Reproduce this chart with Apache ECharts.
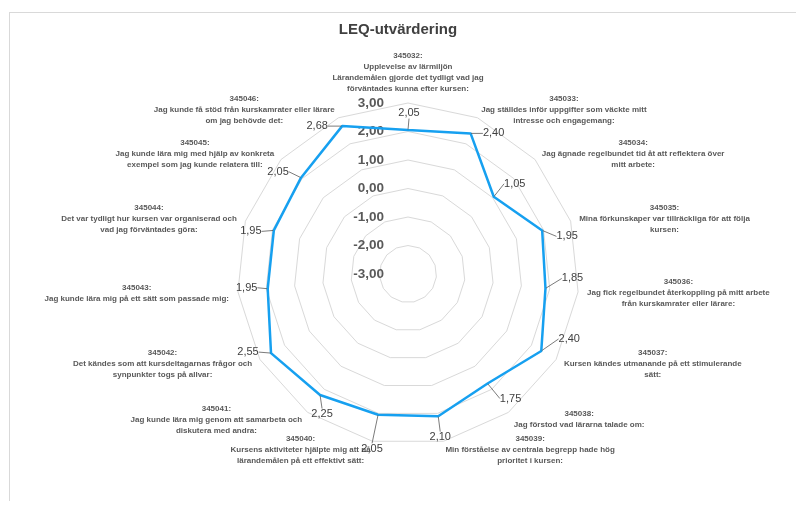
<!DOCTYPE html>
<html>
<head>
<meta charset="utf-8">
<script src="https://cdn.jsdelivr.net/npm/echarts@6/dist/echarts.min.js"></script>
<style>
  html, body { margin: 0; padding: 0; background: #fff; }
  #chart { width: 796px; height: 507px; }
  .frame { position: absolute; left: 9px; top: 12px; width: 800px; height: 488px;
           border-left: 1px solid #d9d9d9; border-top: 1px solid #d9d9d9; pointer-events: none; }
</style>
</head>
<body>
<div id="chart"></div>
<div class="frame"></div>
<script>
// frågor, medurs från toppen
const questions = [
  '345032:\nUpplevelse av lärmiljön\nLärandemålen gjorde det tydligt vad jag\nförväntades kunna efter kursen:',
  '345033:\nJag ställdes inför uppgifter som väckte mitt\nintresse och engagemang:',
  '345034:\nJag ägnade regelbundet tid åt att reflektera över\nmitt arbete:',
  '345035:\nMina förkunskaper var tillräckliga för att följa\nkursen:',
  '345036:\nJag fick regelbundet återkoppling på mitt arbete\nfrån kurskamrater eller lärare:',
  '345037:\nKursen kändes utmanande på ett stimulerande\nsätt:',
  '345038:\nJag förstod vad lärarna talade om:',
  '345039:\nMin förståelse av centrala begrepp hade hög\nprioritet i kursen:',
  '345040:\nKursens aktiviteter hjälpte mig att nå\nlärandemålen på ett effektivt sätt:',
  '345041:\nJag kunde lära mig genom att samarbeta och\ndiskutera med andra:',
  '345042:\nDet kändes som att kursdeltagarnas frågor och\nsynpunkter togs på allvar:',
  '345043:\nJag kunde lära mig på ett sätt som passade mig:',
  '345044:\nDet var tydligt hur kursen var organiserad och\nvad jag förväntades göra:',
  '345045:\nJag kunde lära mig med hjälp av konkreta\nexempel som jag kunde relatera till:',
  '345046:\nJag kunde få stöd från kurskamrater eller lärare\nom jag behövde det:'
];
const scores = [2.05, 2.40, 1.05, 1.95, 1.85, 2.40, 1.75, 2.10, 2.05, 2.25, 2.55, 1.95, 1.95, 2.05, 2.68];
const axisMin = -3;
const axisMax = 3;

const CX = 408, CY = 274;
const fmt = v => v.toFixed(2).replace('.', ',');

// etikettförskjutning (px) per fråga, som i Excel-diagrammet
const labelOffsets = [
  [1, -17], [23, 0], [21, -13], [25, 6], [27, -10], [28, -12], [23, 15], [2, 21],
  [-6, 34], [2, 19], [-23, -1], [-21, -1], [-23, 1], [-23, -6], [-25, 0]
];

// echarts radar går moturs, så vänd ordningen efter första axeln
const order = [0].concat(questions.map((q, i) => i).slice(1).reverse());
const step = 360 / questions.length;

const myChart = echarts.init(document.getElementById('chart'));
const option = {
  backgroundColor: '#fff',
  textStyle: { fontFamily: 'Liberation Sans, Arial, sans-serif' },
  title: {
    text: 'LEQ-utvärdering',
    left: 'center',
    top: 17,
    textStyle: { fontSize: 15, fontWeight: 'bold', color: '#404040' }
  },
  radar: {
    center: [CX, CY],
    radius: 171,
    startAngle: 90,
    shape: 'polygon',
    splitNumber: 6,
    indicator: order.map((i, k) => ({
      name: questions[i],
      min: axisMin,
      max: axisMax,
      axisLabel: k === 0 ? {
        show: true,
        fontSize: 13.5,
        fontWeight: 'bold',
        color: '#595959',
        margin: 24,
        formatter: v => fmt(v)
      } : { show: false }
    })),
    axisName: {
      color: '#595959',
      fontSize: 8,
      fontWeight: 'bold',
      lineHeight: 11,
      // varje rad centrerad inom blocket
      formatter: name => name.split('\n').map(l => '{c|' + l + '}').join('\n'),
      rich: {
        c: { align: 'center', fontSize: 8, fontWeight: 'bold', color: '#595959', lineHeight: 11 }
      }
    },
    nameGap: 9,
    axisLine: { show: false },
    axisTick: { show: false },
    splitArea: { show: false },
    splitLine: { lineStyle: { color: '#d9d9d9', width: 1 } }
  },
  series: [
    {
      name: 'LEQ',
      type: 'radar',
      symbol: 'circle',
      symbolSize: 1,
      lineStyle: { color: '#16a0f0', width: 2.5 },
      itemStyle: { color: '#16a0f0' },
      label: {
        show: true,
        fontSize: 11,
        color: '#404040',
        formatter: p => fmt(p.value)
      },
      labelLine: {
        show: true,
        lineStyle: { color: '#595959', width: 0.8 }
      },
      labelLayout: function (p) {
        const x = p.rect.x + p.rect.width / 2;
        const y = p.rect.y + p.rect.height / 2;
        const ang = Math.atan2(CY - y, x - CX) * 180 / Math.PI;
        let k = Math.round((90 - ang) / step) % questions.length;
        if (k < 0) k += questions.length;
        const off = labelOffsets[k];
        const lx = x + off[0], ly = y + off[1];
        // ledarlinje från punkten till etikettens kant
        let end, bend;
        if (Math.abs(off[0]) >= Math.abs(off[1])) {
          const s = off[0] > 0 ? -1 : 1;
          end = [lx + s * 11, ly];
          bend = [lx + s * 15, ly];
        } else {
          const s = off[1] > 0 ? -1 : 1;
          end = [lx, ly + s * 6];
          bend = [lx - off[0] * 0.5, ly + s * 9];
        }
        return {
          x: lx,
          y: ly,
          align: 'center',
          verticalAlign: 'middle',
          labelLinePoints: [[x, y], bend, end]
        };
      },
      data: [{ value: order.map(i => scores[i]), name: 'Medel' }]
    }
  ]
};
myChart.setOption(option);
</script>
</body>
</html>
